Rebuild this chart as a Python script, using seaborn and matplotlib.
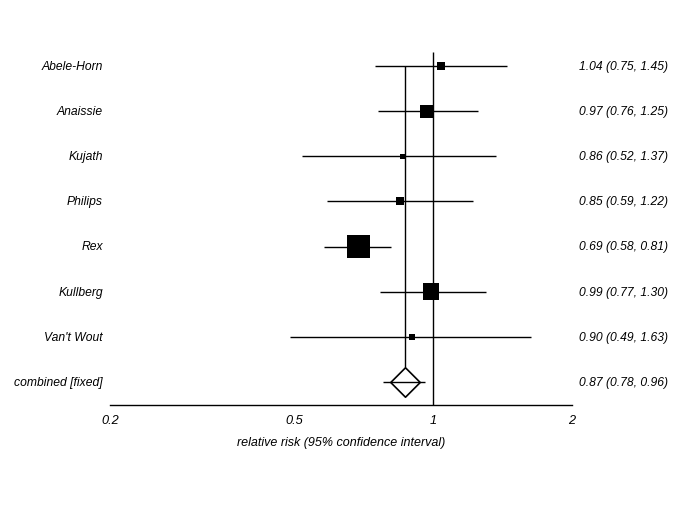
import matplotlib
matplotlib.use("Agg")
import matplotlib.pyplot as plt
import matplotlib.ticker as mticker
import matplotlib.transforms as mtransforms
import seaborn as sns
import pandas as pd

# study results (relative risk with 95% CI) and weights (% of total)
studies = ["Abele-Horn", "Anaissie", "Kujath", "Philips", "Rex", "Kullberg", "Van't Wout"]
rr = [1.04, 0.97, 0.86, 0.85, 0.69, 0.99, 0.90]
ci_low = [0.75, 0.76, 0.52, 0.59, 0.58, 0.77, 0.49]
ci_high = [1.45, 1.25, 1.37, 1.22, 0.81, 1.30, 1.63]
weights = [4.9, 14.8, 2.1, 5.3, 46.9, 23.3, 2.7]

combined_label = "combined [fixed]"
combined_rr = 0.87
combined_low = 0.78
combined_high = 0.96

x_ticks = [0.2, 0.5, 1, 2]
x_tick_labels = ["0.2", "0.5", "1", "2"]
x_label = "relative risk (95% confidence interval)"

df = pd.DataFrame({
    "study": studies, "rr": rr, "lo": ci_low, "hi": ci_high,
    "weight": weights, "row": list(range(len(studies))),
})
comb_row = len(studies)

sns.set_style("white")
plt.rcParams["font.family"] = ["Liberation Sans", "DejaVu Sans"]

W, H = 685, 513
fig = plt.figure(figsize=(W / 100, H / 100), dpi=100)
ax = fig.add_axes([110 / W, (H - 405) / H, (572 - 110) / W, (405 - 50) / H])

ax.set_xscale("log")
ax.set_xlim(0.2, 2)
ax.set_ylim(comb_row + 0.51, -0.355)

# confidence intervals
ax.hlines(df["row"], df["lo"], df["hi"], color="black", lw=1.0, zorder=2)
ax.hlines(comb_row, combined_low, combined_high, color="black", lw=1.0, zorder=4)

# reference lines: no effect and pooled estimate
diamond_half = 0.33
ax.vlines(1, -0.31, comb_row + 0.51, color="black", lw=1.0, zorder=1)
ax.vlines(combined_rr, 0, comb_row - diamond_half, color="black", lw=1.0, zorder=1)

# study squares sized by weight
sns.scatterplot(data=df, x="rr", y="row", size="weight", sizes=(0, 620),
                size_norm=(0, 100), marker="s", color="black", edgecolor="black",
                linewidth=0, legend=False, zorder=3, ax=ax)

# pooled diamond
sns.scatterplot(x=[combined_rr], y=[comb_row], marker="D", s=225, color="white",
                edgecolor="black", linewidth=1.2, legend=False, zorder=3, ax=ax)

# axis styling
sns.despine(ax=ax, left=True, top=True, right=True)
ax.spines["bottom"].set_color("black")
ax.spines["bottom"].set_linewidth(1.0)
ax.set_yticks([])
ax.set_ylabel("")
ax.xaxis.set_major_locator(mticker.FixedLocator(x_ticks))
ax.xaxis.set_major_formatter(mticker.FixedFormatter(x_tick_labels))
ax.xaxis.set_minor_locator(mticker.NullLocator())
ax.tick_params(axis="x", direction="out", length=5, width=1.0, color="black",
               labelsize=9.2, pad=2.5, labelcolor="black")
for lab in ax.get_xticklabels():
    lab.set_fontstyle("italic")
ax.set_xlabel(x_label, fontsize=9, fontstyle="italic", labelpad=7, color="black")

# labels on both sides
trans = mtransforms.blended_transform_factory(ax.transAxes, ax.transData)
names = studies + [combined_label]
texts = [f"{r:.2f} ({l:.2f}, {h:.2f})" for r, l, h in zip(rr, ci_low, ci_high)]
texts.append(f"{combined_rr:.2f} ({combined_low:.2f}, {combined_high:.2f})")
for i, (name, txt) in enumerate(zip(names, texts)):
    ax.text(-0.015, i + 0.02, name, transform=trans, ha="right", va="center",
            fontsize=8.7, fontstyle="italic", color="black")
    ax.text(1.208, i + 0.02, txt, transform=trans, ha="right", va="center",
            fontsize=8.7, fontstyle="italic", color="black")

fig.savefig("out.png", dpi=100)
